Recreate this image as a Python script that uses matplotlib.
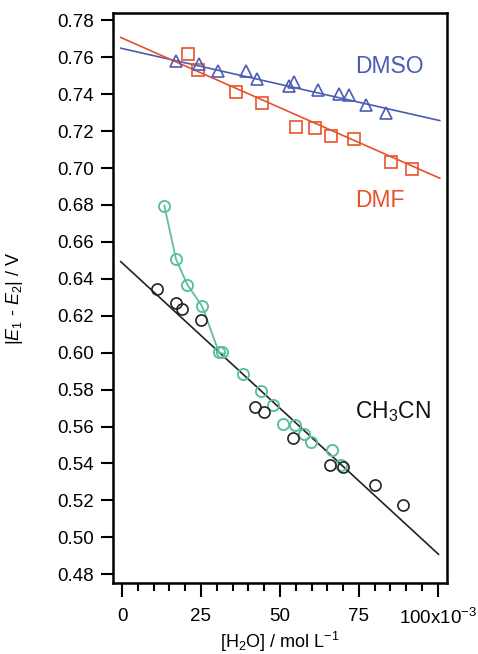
import matplotlib
matplotlib.use("Agg")
import matplotlib.pyplot as plt
from matplotlib.ticker import MultipleLocator, FixedLocator, FixedFormatter

plt.rcParams['font.family'] = ['Liberation Sans', 'DejaVu Sans']
plt.rcParams['mathtext.fontset'] = 'custom'
plt.rcParams['mathtext.rm'] = 'Liberation Sans'
plt.rcParams['mathtext.it'] = 'Liberation Sans:italic'

# data (x in 10^-3 mol/L)
dmso_x = [17.1, 24.4, 30.3, 39.2, 42.7, 53.0, 54.3, 61.9, 68.7, 71.9, 77.3, 83.5]
dmso_y = [0.7580, 0.7564, 0.7526, 0.7526, 0.7483, 0.7445, 0.7465, 0.7423, 0.7400, 0.7396, 0.7342, 0.7300]
dmso_fit_x = [-0.4, 100.6]
dmso_fit_y = [0.7649, 0.7257]

dmf_x = [21.0, 24.0, 36.0, 44.3, 55.1, 61.1, 66.2, 73.3, 85.2, 91.8]
dmf_y = [0.7617, 0.7532, 0.7414, 0.7351, 0.7224, 0.7215, 0.7174, 0.7156, 0.7035, 0.6993]
dmf_fit_x = [-0.4, 100.6]
dmf_fit_y = [0.7707, 0.6945]

acn_x = [11.0, 17.0, 18.9, 25.0, 42.1, 45.0, 54.1, 65.7, 70.1, 80.1, 89.1]
acn_y = [0.6345, 0.6267, 0.6237, 0.6177, 0.5703, 0.5679, 0.5540, 0.5390, 0.5381, 0.5281, 0.5173]
acn_fit_x = [-0.4, 100.2]
acn_fit_y = [0.6493, 0.4908]

green_x = [13.4, 17.1, 20.7, 25.4, 30.7, 31.6, 38.4, 43.9, 47.9, 51.1, 54.8, 57.6, 59.9, 66.6, 69.3]
green_y = [0.6796, 0.6506, 0.6368, 0.6250, 0.6001, 0.6006, 0.5884, 0.5790, 0.5714,
           0.5616, 0.5607, 0.5559, 0.5517, 0.5472, 0.5391]
green_curve_x = [13.4, 17.1, 20.7, 25.4, 30.7, 32.0]
green_curve_y = [0.6796, 0.6506, 0.6368, 0.6250, 0.6001, 0.5995]

x_ticks = [0, 25, 50, 75, 100]
x_ticklabels = ['0', '25', '50', '75', '100x10$^{-3}$']
y_ticks = [0.48, 0.50, 0.52, 0.54, 0.56, 0.58, 0.60, 0.62, 0.64, 0.66, 0.68, 0.70, 0.72, 0.74, 0.76, 0.78]

blue = '#4a5cb4'
red = '#e8522a'
green = '#5cc0a0'

fig = plt.figure(figsize=(4.78, 6.54), dpi=100)
ax = fig.add_axes([113 / 478, 1 - 582.7 / 654, (446.7 - 113) / 478, (582.7 - 13.3) / 654])

# fit lines
ax.plot(dmso_fit_x, dmso_fit_y, color=blue, lw=1.2)
ax.plot(dmf_fit_x, dmf_fit_y, color=red, lw=1.2)
ax.plot(acn_fit_x, acn_fit_y, color='#222222', lw=1.2)
ax.plot(green_curve_x, green_curve_y, color=green, lw=1.3)

# markers
ax.plot(green_x, green_y, 'o', mfc='none', mec=green, ms=8, mew=1.4)
ax.plot(acn_x, acn_y, 'o', mfc='none', mec='#222222', ms=8, mew=1.2)
ax.plot(dmf_x, dmf_y, 's', mfc='none', mec=red, ms=8.5, mew=1.2)
ax.plot(dmso_x, dmso_y, '^', mfc='none', mec=blue, ms=8.5, mew=1.2)

# series labels
ax.text(73.8, 0.7514, 'DMSO', color=blue, fontsize=16.5, va='baseline', ha='left')
ax.text(73.8, 0.6791, 'DMF', color=red, fontsize=16.5, va='baseline', ha='left')
ax.text(73.8, 0.5646, 'CH$_3$CN', color='#111111', fontsize=16.5, va='baseline', ha='left')

ax.set_xlim(-2.85, 102.8)
ax.set_ylim(0.4754, 0.7838)

ax.xaxis.set_major_locator(FixedLocator(x_ticks))
ax.xaxis.set_major_formatter(FixedFormatter(x_ticklabels))
ax.xaxis.set_minor_locator(MultipleLocator(5))
ax.yaxis.set_major_locator(FixedLocator(y_ticks))
ax.yaxis.set_major_formatter(FixedFormatter(['%.2f' % v for v in y_ticks]))

for s in ax.spines.values():
    s.set_linewidth(1.8)
ax.tick_params(axis='x', which='major', direction='out', length=10, width=1.5, labelsize=13.5, pad=8)
ax.tick_params(axis='x', which='minor', direction='out', length=6, width=1.5)
ax.tick_params(axis='y', which='major', direction='out', length=9, width=1.5, labelsize=13.5, pad=5)

ax.set_xlabel('[H$_2$O] / mol L$^{-1}$', fontsize=13)
ax.xaxis.set_label_coords(0.5, -0.083)
ax.set_ylabel('|$E_1$ - $E_2$| / V', fontsize=13)
ax.yaxis.set_label_coords(-0.265, 0.5)

fig.savefig('out.png', dpi=100)
